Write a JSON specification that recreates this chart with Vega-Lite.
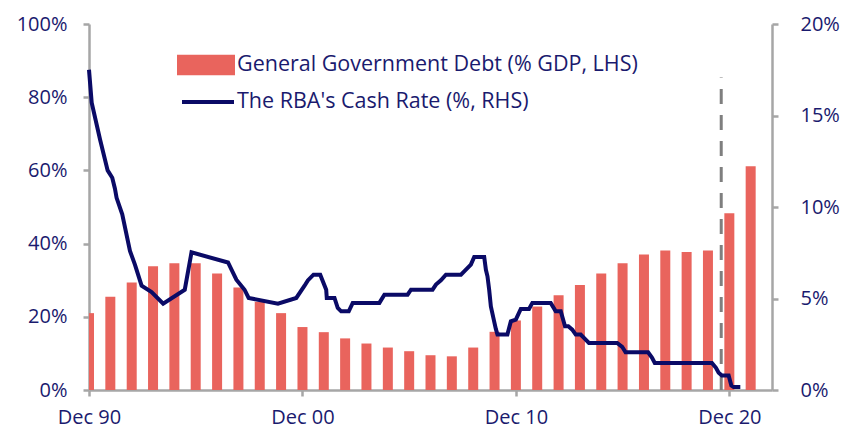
{
  "$schema": "https://vega.github.io/schema/vega-lite/v6.json",
  "width": 683,
  "height": 366,
  "autosize": "none",
  "padding": {"left": 89, "top": 24, "right": 71, "bottom": 40},
  "background": "white",
  "config": {
    "view": {"stroke": null},
    "font": "Open Sans",
    "axis": {
      "labelFont": "Open Sans",
      "labelFontSize": 20,
      "labelColor": "#1a1a6e",
      "domainColor": "#a6a6a6",
      "domainWidth": 2.5,
      "tickColor": "#a6a6a6",
      "tickWidth": 2.5,
      "tickSize": 6,
      "grid": false,
      "title": null
    },
    "legend": {
      "labelFont": "Open Sans",
      "labelFontSize": 21.5,
      "labelColor": "#1a1a6e",
      "labelLimit": 0,
      "title": null
    }
  },
  "datasets": {
    "debt": [
      {"date": "1990-12-01", "debt": 21.0},
      {"date": "1991-12-01", "debt": 25.5},
      {"date": "1992-12-01", "debt": 29.4},
      {"date": "1993-12-01", "debt": 33.8},
      {"date": "1994-12-01", "debt": 34.6},
      {"date": "1995-12-01", "debt": 34.6},
      {"date": "1996-12-01", "debt": 31.8},
      {"date": "1997-12-01", "debt": 28.0},
      {"date": "1998-12-01", "debt": 24.1},
      {"date": "1999-12-01", "debt": 21.0},
      {"date": "2000-12-01", "debt": 17.2},
      {"date": "2001-12-01", "debt": 15.8},
      {"date": "2002-12-01", "debt": 14.1},
      {"date": "2003-12-01", "debt": 12.7},
      {"date": "2004-12-01", "debt": 11.6},
      {"date": "2005-12-01", "debt": 10.6},
      {"date": "2006-12-01", "debt": 9.5},
      {"date": "2007-12-01", "debt": 9.2},
      {"date": "2008-12-01", "debt": 11.6},
      {"date": "2009-12-01", "debt": 15.9},
      {"date": "2010-12-01", "debt": 19.0},
      {"date": "2011-12-01", "debt": 22.8},
      {"date": "2012-12-01", "debt": 25.9},
      {"date": "2013-12-01", "debt": 28.7},
      {"date": "2014-12-01", "debt": 31.8},
      {"date": "2015-12-01", "debt": 34.6},
      {"date": "2016-12-01", "debt": 37.0},
      {"date": "2017-12-01", "debt": 38.1},
      {"date": "2018-12-01", "debt": 37.7},
      {"date": "2019-12-01", "debt": 38.1},
      {"date": "2020-12-01", "debt": 48.3},
      {"date": "2021-12-01", "debt": 61.1}
    ],
    "cash": [
      {"date": "1990-12-01", "rate": 17.5},
      {"date": "1991-01-16", "rate": 15.7},
      {"date": "1991-06-07", "rate": 13.7},
      {"date": "1991-10-16", "rate": 12.0},
      {"date": "1992-01-03", "rate": 11.6},
      {"date": "1992-02-18", "rate": 11.0},
      {"date": "1992-03-17", "rate": 10.5},
      {"date": "1992-06-22", "rate": 9.6},
      {"date": "1992-11-01", "rate": 7.6},
      {"date": "1993-01-25", "rate": 6.85},
      {"date": "1993-05-19", "rate": 5.7},
      {"date": "1993-11-06", "rate": 5.35},
      {"date": "1994-05-23", "rate": 4.72},
      {"date": "1995-05-28", "rate": 5.48},
      {"date": "1995-09-20", "rate": 7.52},
      {"date": "1997-06-06", "rate": 6.97},
      {"date": "1997-10-27", "rate": 6.03},
      {"date": "1998-03-16", "rate": 5.48},
      {"date": "1998-05-25", "rate": 5.03},
      {"date": "1999-10-08", "rate": 4.72},
      {"date": "2000-08-17", "rate": 5.03},
      {"date": "2001-01-06", "rate": 5.7},
      {"date": "2001-03-03", "rate": 5.99},
      {"date": "2001-06-08", "rate": 6.3},
      {"date": "2001-10-01", "rate": 6.3},
      {"date": "2002-01-11", "rate": 5.48},
      {"date": "2002-01-21", "rate": 5.03},
      {"date": "2002-06-02", "rate": 5.03},
      {"date": "2002-07-28", "rate": 4.48},
      {"date": "2002-09-24", "rate": 4.3},
      {"date": "2003-02-01", "rate": 4.3},
      {"date": "2003-04-10", "rate": 4.76},
      {"date": "2004-07-09", "rate": 4.76},
      {"date": "2004-10-03", "rate": 5.21},
      {"date": "2005-11-04", "rate": 5.21},
      {"date": "2006-01-01", "rate": 5.48},
      {"date": "2007-01-05", "rate": 5.48},
      {"date": "2007-03-04", "rate": 5.76},
      {"date": "2007-05-28", "rate": 5.99},
      {"date": "2007-08-22", "rate": 6.3},
      {"date": "2008-05-05", "rate": 6.3},
      {"date": "2008-06-30", "rate": 6.48},
      {"date": "2008-10-22", "rate": 6.85},
      {"date": "2008-12-18", "rate": 7.27},
      {"date": "2009-06-07", "rate": 7.27},
      {"date": "2009-07-06", "rate": 6.57},
      {"date": "2009-08-02", "rate": 6.21},
      {"date": "2009-08-31", "rate": 5.48},
      {"date": "2009-09-29", "rate": 4.57},
      {"date": "2009-11-24", "rate": 3.75},
      {"date": "2009-12-23", "rate": 3.34},
      {"date": "2010-01-20", "rate": 3.03},
      {"date": "2010-07-09", "rate": 3.03},
      {"date": "2010-09-06", "rate": 3.75},
      {"date": "2010-11-30", "rate": 3.85},
      {"date": "2011-02-23", "rate": 4.43},
      {"date": "2011-07-14", "rate": 4.43},
      {"date": "2011-09-09", "rate": 4.76},
      {"date": "2012-07-19", "rate": 4.76},
      {"date": "2012-10-13", "rate": 4.3},
      {"date": "2013-01-07", "rate": 4.3},
      {"date": "2013-03-21", "rate": 3.48},
      {"date": "2013-05-16", "rate": 3.48},
      {"date": "2013-07-23", "rate": 3.3},
      {"date": "2013-09-20", "rate": 3.03},
      {"date": "2013-12-14", "rate": 3.03},
      {"date": "2014-02-25", "rate": 2.79},
      {"date": "2014-05-04", "rate": 2.57},
      {"date": "2015-08-30", "rate": 2.57},
      {"date": "2015-11-24", "rate": 2.36},
      {"date": "2016-01-21", "rate": 2.06},
      {"date": "2017-02-10", "rate": 2.06},
      {"date": "2017-04-19", "rate": 1.76},
      {"date": "2017-06-04", "rate": 1.48},
      {"date": "2020-02-07", "rate": 1.48},
      {"date": "2020-04-16", "rate": 1.21},
      {"date": "2020-06-01", "rate": 0.94},
      {"date": "2020-07-27", "rate": 0.79},
      {"date": "2020-11-19", "rate": 0.79},
      {"date": "2021-01-04", "rate": 0.25},
      {"date": "2021-02-12", "rate": 0.17},
      {"date": "2021-06-07", "rate": 0.17}
    ],
    "marker": [
      {"date": "2020-07-15", "bottom": 0, "top": 85.4}
    ]
  },
  "layer": [
    {
      "data": {"name": "debt"},
      "transform": [{"calculate": "'General Government Debt (% GDP, LHS)'", "as": "series"}],
      "mark": {"type": "bar", "size": 10, "clip": true},
      "encoding": {
        "x": {
          "field": "date", "type": "temporal",
          "scale": {"domain": ["1990-12-01", "2022-12-01"], "padding": 0},
          "axis": {
            "values": ["1990-12-01", "2000-12-01", "2010-12-01", "2020-12-01"],
            "format": "%b %y",
            "labelPadding": 11,
            "labelFlush": false
          }
        },
        "y": {
          "field": "debt", "type": "quantitative",
          "scale": {"domain": [0, 100]},
          "axis": {"orient": "left", "values": [0, 20, 40, 60, 80, 100], "labelExpr": "datum.value + '%'", "labelPadding": 16}
        },
        "fill": {
          "field": "series", "type": "nominal",
          "scale": {"range": ["#e9645d"]},
          "legend": {
            "orient": "none", "legendX": 88, "legendY": 12,
            "symbolType": "M-1,-0.35 L1,-0.35 L1,0.35 L-1,0.35 Z",
            "symbolSize": 3364,
            "symbolStrokeWidth": 0,
            "labelOffset": 2
          }
        }
      }
    },
    {
      "data": {"name": "marker"},
      "mark": {"type": "rule", "color": "#7f7f7f", "strokeWidth": 3, "strokeDash": [15, 11]},
      "encoding": {
        "x": {"field": "date", "type": "temporal"},
        "y": {"field": "bottom", "type": "quantitative", "scale": {"domain": [0, 100]}, "axis": null},
        "y2": {"field": "top"}
      }
    },
    {
      "data": {"name": "cash"},
      "transform": [{"calculate": "'The RBA\\'s Cash Rate (%, RHS)'", "as": "series"}],
      "mark": {"type": "line", "strokeWidth": 4},
      "encoding": {
        "x": {"field": "date", "type": "temporal"},
        "y": {
          "field": "rate", "type": "quantitative",
          "scale": {"domain": [0, 20]},
          "axis": {"orient": "right", "values": [0, 5, 10, 15, 20], "labelExpr": "datum.value + '%'", "labelPadding": 22}
        },
        "stroke": {
          "field": "series", "type": "nominal",
          "scale": {"range": ["#0a0a66"]},
          "legend": {
            "orient": "none", "legendX": 91, "legendY": 50,
            "symbolType": "stroke",
            "symbolSize": 2704,
            "symbolStrokeWidth": 4,
            "labelOffset": 1
          }
        }
      }
    }
  ],
  "resolve": {"scale": {"y": "independent"}, "axis": {"y": "independent"}}
}
